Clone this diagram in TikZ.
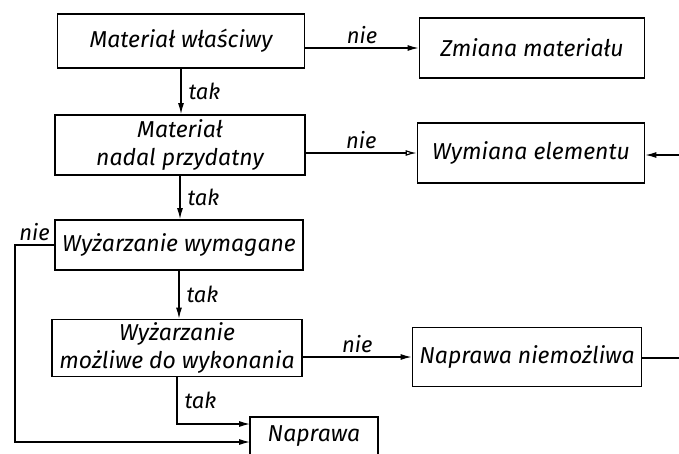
\documentclass[tikz,border=0pt]{standalone}
\usepackage{fontspec}
\setmainfont{Fira Sans}
\usetikzlibrary{arrows.meta,calc}
\begin{document}
\begin{tikzpicture}[x=1pt,y=-1pt,
  txt/.style={inner sep=0pt, align=center,
    font=\fontsize{23}{28}\selectfont\itshape},
  box/.style={txt, draw, line width=1.8pt},
  boxline/.style={line width=1.8pt},
  conn/.style={line width=1.2pt},
  arr/.style={conn,-{Latex[length=11pt,width=6pt]}},
  oarr/.style={conn,-{Latex[open,length=11pt,width=6pt]}},
  lab/.style={font=\fontsize{22}{24}\selectfont\itshape, inner sep=4pt}]
\useasboundingbox (0,0) rectangle (679,453);
\clip (0,0) rectangle (679,453);
\node[box,minimum width=247pt,minimum height=54pt] (b1) at (181,41) {Materiał właściwy};
\node[box,minimum width=225pt,minimum height=60pt] (zm) at (532,48) {Zmiana materiału};
\node[box,minimum width=250pt,minimum height=60pt] (b2) at (180,145) {Materiał\\nadal przydatny};
\node[box,minimum width=227pt,minimum height=60pt] (wy) at (531,153) {Wymiana elementu};
\node[box,minimum width=248pt,minimum height=50pt] (b3) at (179,245) {Wyżarzanie wymagane};
\node[box,minimum width=250pt,minimum height=57pt] (b4) at (177,348) {Wyżarzanie\\możliwe do wykonania};
\node[box,minimum width=229pt,minimum height=59pt] (nn) at (527,357) {Naprawa niemożliwa};
\node[txt] (np) at (314,436) {Naprawa};
\draw[boxline] (250,460) |- (378,417) -- (378,460);
\coordinate (npa) at (250,424);
\coordinate (npb) at (250,442);
\coordinate (r1) at (679,155);
\coordinate (r2) at (679,358);
\coordinate (lx) at (15,0);
\draw[arr] (b1.east |- zm.west) -- (zm.west) node[midway,above,lab] {nie};
\draw[arr] (b1.south) -- (b1.south |- b2.north) node[midway,right,lab,xshift=3pt] {tak};
\draw[oarr] (b2.east |- wy.west) -- (wy.west) node[midway,above,lab] {nie};
\draw[arr] (r1) -- (r1 -| wy.east);
\draw[arr] (b2.south) -- (b2.south |- b3.north) node[midway,right,lab,xshift=3pt] {tak};
\draw[arr] (b3.west) -- (b3.west -| lx) node[midway,above,lab] {nie} |- (npb);
\draw[arr] (b3.south) -- (b3.south |- b4.north) node[midway,right,lab,xshift=3pt] {tak};
\draw[arr] (b4.east |- nn.west) -- (nn.west) node[midway,above,lab] {nie};
\draw[conn] (nn.east |- r2) -- (r2);
\draw[arr] (b4.south) |- (npa) node[pos=0.25,right,lab,xshift=3pt] {tak};
\end{tikzpicture}
\end{document}
